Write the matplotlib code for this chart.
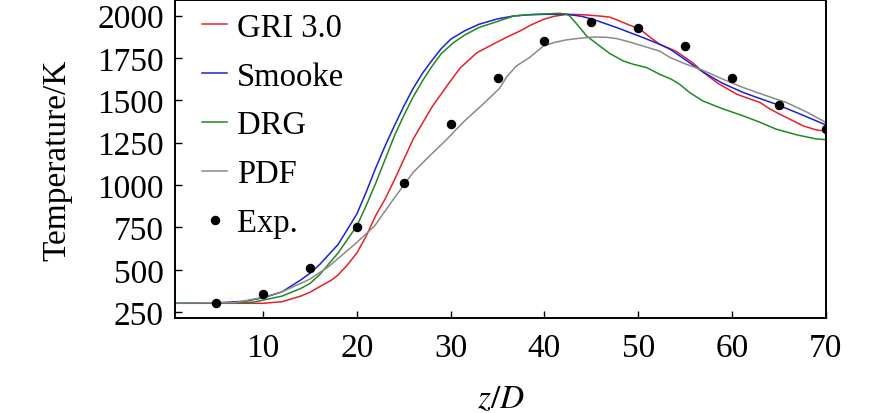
import numpy as np
import matplotlib.pyplot as plt

plt.rcParams['font.family'] = ['Liberation Serif', 'DejaVu Serif']
plt.rcParams['mathtext.fontset'] = 'stix'

# GRI 3.0 mechanism
gri_z = [0.6, 5, 10, 12, 14, 15, 16, 17.3, 18, 19, 20, 21, 22, 23, 24, 26, 28, 29.6,
         31, 32.8, 34.5, 35.9, 37.4, 38.6, 39.9, 41, 42.4, 44, 45.9, 47, 48, 49,
         50.2, 51.3, 52.3, 54, 55.8, 56.9, 58.5, 60.5, 61.8, 63, 64, 65.1, 66.3,
         67.6, 69, 70]
gri_t = [303, 303, 303, 312, 345, 368, 400, 440, 470, 530, 600, 700, 820, 917,
         1030, 1271, 1460, 1585, 1690, 1781, 1830, 1870, 1909, 1945, 1977, 1995,
         2007, 2005, 1997, 1990, 1968, 1945, 1919, 1870, 1830, 1790, 1722, 1667,
         1600, 1536, 1510, 1487, 1450, 1418, 1385, 1349, 1325, 1318]

# Smooke mechanism
smk_z = [0.6, 5, 8, 10, 12, 14, 15, 16, 18, 20, 21, 22, 23, 24, 25, 26, 27, 28,
         29, 30, 31.5, 33, 35, 36.7, 38, 40, 42.4, 44, 45.2, 47.7, 50.5, 52.3,
         53.4, 55, 56.9, 59, 61.2, 63, 64.7, 67, 70]
smk_t = [305, 305, 315, 335, 370, 440, 480, 530, 650, 830, 960, 1100, 1230,
         1350, 1465, 1570, 1660, 1735, 1805, 1860, 1910, 1948, 1980, 1997, 2003,
         2007, 2007, 1995, 1977, 1929, 1870, 1830, 1801, 1740, 1667, 1600, 1546,
         1510, 1477, 1425, 1355]

# DRG reduced mechanism
drg_z = [0.6, 7, 9, 12, 14, 15, 16, 18, 20, 21, 22, 23, 24, 25, 26, 27, 28, 29,
         30.3, 31.5, 33, 35, 36.7, 38.8, 40.5, 41.6, 42.3, 42.7, 43.6, 44.5, 45.9,
         47, 48.4, 49.5, 50.9, 52.3, 53.5, 54.4, 55.5, 56.9, 59, 61.2, 63,
         64.7, 67, 69, 70]
drg_t = [305, 306, 310, 345, 390, 420, 470, 600, 760, 880, 1010, 1150, 1290,
         1410, 1520, 1615, 1700, 1775, 1840, 1885, 1929, 1965, 1997, 2007, 2010,
         2013, 2008, 1997, 1940, 1879, 1820, 1775, 1732, 1712, 1693, 1653, 1625,
         1595, 1545, 1496, 1450, 1408, 1370, 1330, 1295, 1272, 1268]

# PDF
pdf_z = [0.6, 7, 10, 12, 14, 15, 17, 19.8, 21.9, 23.9, 25, 26, 27.4, 29.5, 31.3,
         33.5, 35.2, 36, 37, 38.4, 39.9, 41, 42.3, 43.8, 45.2, 46.5, 47.7, 49,
         50.5, 52.3, 53.4, 55, 56.9, 59, 61.2, 63.5, 65.8, 68, 70]
pdf_t = [305, 307, 338, 370, 420, 446, 520, 652, 760, 917, 1000, 1075, 1153,
         1265, 1369, 1480, 1570, 1640, 1702, 1752, 1820, 1840, 1856, 1866, 1873,
         1872, 1864, 1845, 1820, 1790, 1752, 1715, 1677, 1625, 1575, 1530, 1487,
         1430, 1370]

# experiment
exp_z = [5, 10, 15, 20, 25, 30, 35, 40, 45, 50, 55, 60, 65, 70]
exp_t = [305, 360, 510, 750, 1010, 1360, 1630, 1850, 1960, 1925, 1820, 1630, 1475, 1330]

fig = plt.figure(figsize=(8.86, 4.14), dpi=100)
ax = fig.add_axes([0.1975, 0.229, 0.7345, 0.768])

lw = 1.1
ax.plot(gri_z, gri_t, color='#e8202a', lw=lw, label='GRI 3.0')
ax.plot(smk_z, smk_t, color='#1c22d8', lw=lw, label='Smooke')
ax.plot(drg_z, drg_t, color='#1f8a22', lw=lw, label='DRG')
ax.plot(pdf_z, pdf_t, color='#8a8a8a', lw=lw, label='PDF')
ax.plot(exp_z, exp_t, 'o', color='black', ms=5.8, label='Exp.')

ax.set_xlim(0.6, 70)
ax.set_ylim(215, 2090)
ax.set_xticks(np.arange(10, 71, 10))
ax.set_yticks(np.arange(250, 2001, 250))

ax.tick_params(direction='in', length=5, width=1, labelsize=24, pad=8)
ax.tick_params(axis='x', pad=10)
for s in ax.spines.values():
    s.set_linewidth(1.4)

ax.set_ylabel('Temperature/K', fontsize=24, labelpad=18)
ax.set_xlabel('$z/D$', fontsize=24, labelpad=15)

ax.legend(loc='upper left', bbox_to_anchor=(0.022, 1.003), frameon=False,
          fontsize=23.5, handlelength=0.77, handletextpad=0.3, labelspacing=0.56,
          borderaxespad=0)

fig.savefig('out.png', dpi=100)
